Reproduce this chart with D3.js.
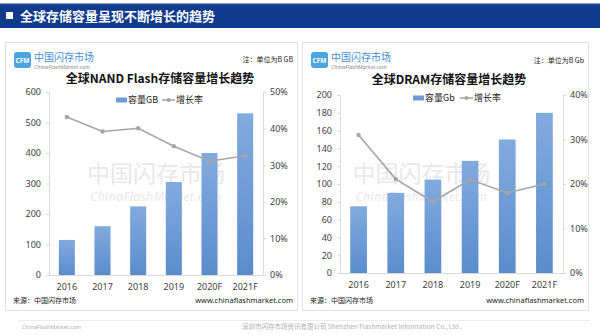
<!DOCTYPE html>
<html><head><meta charset="utf-8">
<script src="https://cdn.jsdelivr.net/npm/d3@7"></script>
<style>
body{margin:0;background:#fff;}
svg{display:block;font-family:"Noto Sans","Noto Sans CJK SC",sans-serif;}
</style></head>
<body>
<svg id="c" width="600" height="335"></svg>
<script>
// ---- data ----
const years = ['2016','2017','2018','2019','2020F','2021F'];
const nandCapacity = [115,160,225,305,400,530];
const nandGrowth = [43.2,39.2,40.1,35.2,31.1,32.6];
const dramCapacity = [75,90,105,126,150,180];
const dramGrowth = [31,21.1,16,21,18,20];
const nandLeftTicks = [0,100,200,300,400,500,600];
const nandRightTicks = [0,10,20,30,40,50];
const dramLeftTicks = [0,20,40,60,80,100,120,140,160,180,200];
const dramRightTicks = [0,10,20,30,40];

const svg = d3.select('#c');
const cjk = '"Noto Sans CJK SC",sans-serif';

// gradient for bars
const defs = svg.append('defs');
const g = defs.append('linearGradient').attr('id','barGrad').attr('x1',0).attr('y1',0).attr('x2',0).attr('y2',1);
g.append('stop').attr('offset','0%').attr('stop-color','#82abdf');
g.append('stop').attr('offset','100%').attr('stop-color','#5a8ccd');

// header
svg.append('rect').attr('x',0).attr('y',4).attr('width',600).attr('height',24).attr('fill','#103b8d');
svg.append('rect').attr('x',0).attr('y',3).attr('width',600).attr('height',1.2).attr('fill','#8aa0c8');
svg.append('rect').attr('x',6).attr('y',12).attr('width',7).attr('height',7).attr('fill','#fff');
svg.append('text').attr('x',20).attr('y',21).attr('fill','#fff').attr('font-size',13).attr('font-weight','bold')
  .attr('font-family',cjk).text('全球存储容量呈现不断增长的趋势');

// footer
svg.append('line').attr('x1',18).attr('x2',590).attr('y1',320.5).attr('y2',320.5).attr('stroke','#ececec');
svg.append('text').attr('x',22).attr('y',329).attr('font-size',5.5).attr('fill','#b0b0b0').text('ChinaFlashMarket.com');
svg.append('text').attr('x',352).attr('y',329).attr('text-anchor','middle').attr('font-size',6.5).attr('fill','#b0b0b0')
  .attr('font-family',cjk).text('深圳市闪存市场资讯有限公司  Shenzhen Flashmarket Information Co., Ltd .');

function drawChart(cfg){
  const p = svg.append('g');
  // panel
  p.append('rect').attr('x',cfg.px+0.5).attr('y',42.5).attr('width',cfg.pw).attr('height',268)
    .attr('fill','#fff').attr('stroke','#e2e2e2');
  // logo
  const lx = cfg.px+9, ly = 52;
  p.append('rect').attr('x',lx).attr('y',ly).attr('width',17).attr('height',16).attr('rx',3).attr('fill','#4ba6e0');
  p.append('text').attr('x',lx+8.5).attr('y',ly+10.5).attr('text-anchor','middle').attr('font-size',6.5)
    .attr('font-weight','bold').attr('fill','#fff').text('CFM');
  p.append('text').attr('x',lx+20).attr('y',ly+8.5).attr('font-size',10).attr('fill','#3f8fd2')
    .attr('font-family',cjk).text('中国闪存市场');
  p.append('text').attr('x',lx+20).attr('y',ly+16.5).attr('font-size',5.5).attr('font-style','italic')
    .attr('fill','#8c8c8c').text('ChinaFlashMarket.com');
  // note
  p.append('text').attr('x',cfg.px+cfg.pw-4).attr('y',cfg.noteY).attr('text-anchor','end').attr('font-size',7)
    .attr('fill','#222').attr('font-family',cjk).text(cfg.note);
  // title
  p.append('text').attr('x',cfg.titleX).attr('y',cfg.titleY).attr('text-anchor','middle').attr('font-size',12)
    .attr('font-weight','bold').attr('fill','#111').attr('font-family',cjk).text(cfg.title);
  // watermark
  const wx = (cfg.x0+cfg.x1)/2 + cfg.wmDx;
  p.append('text').attr('x',wx).attr('y',cfg.wmY).attr('text-anchor','middle').attr('font-size',23)
    .attr('fill','#e8e8e8').attr('font-family',cjk).text('中国闪存市场');
  p.append('text').attr('x',wx).attr('y',cfg.wmY+19).attr('text-anchor','middle').attr('font-size',12)
    .attr('font-style','italic').attr('fill','#e8e8e8').attr('letter-spacing',0.5).text('ChinaFlashMarket.com');

  // scales
  const x = d3.scaleBand().domain(years).range([cfg.x0,cfg.x1]).paddingInner(0.55).paddingOuter(0.275);
  const yL = d3.scaleLinear().domain([0,cfg.leftMax]).range([cfg.yBot,cfg.yTop]);
  const yR = d3.scaleLinear().domain([0,cfg.rightMax]).range([cfg.yBot,cfg.yTop]);

  // axes
  const axL = p.append('g').attr('transform',`translate(${cfg.x0},0)`)
    .call(d3.axisLeft(yL).tickValues(cfg.leftTicks).tickSize(3).tickPadding(5).tickFormat(d3.format('d')));
  const axR = p.append('g').attr('transform',`translate(${cfg.x1},0)`)
    .call(d3.axisRight(yR).tickValues(cfg.rightTicks).tickSize(3).tickPadding(4).tickFormat(d=>d+'%'));
  const axB = p.append('g').attr('transform',`translate(0,${cfg.yBot})`)
    .call(d3.axisBottom(x).tickSize(0).tickPadding(9));
  [axL,axR,axB].forEach(a=>{
    a.select('.domain').attr('stroke','#d9d9d9');
    a.selectAll('.tick line').attr('stroke','#d9d9d9');
    a.selectAll('text').attr('fill','#404040').attr('font-size',9).attr('font-family','"Noto Sans",sans-serif');
  });

  // bars
  p.append('g').selectAll('rect').data(cfg.capacity).join('rect')
    .attr('x',(d,i)=>x(years[i])).attr('width',x.bandwidth())
    .attr('y',d=>yL(d)).attr('height',d=>cfg.yBot-yL(d)).attr('fill','url(#barGrad)');
  // line
  const line = d3.line().x((d,i)=>x(years[i])+x.bandwidth()/2).y(d=>yR(d));
  p.append('path').datum(cfg.growth).attr('d',line).attr('fill','none').attr('stroke','#a5a5a5').attr('stroke-width',1.6);
  p.append('g').selectAll('circle').data(cfg.growth).join('circle')
    .attr('cx',(d,i)=>x(years[i])+x.bandwidth()/2).attr('cy',d=>yR(d)).attr('r',2.2).attr('fill','#a5a5a5');

  // legend
  const lg = p.append('g').attr('transform',`translate(${cfg.legX},${cfg.legY})`);
  lg.append('rect').attr('x',0).attr('y',-2.5).attr('width',11).attr('height',5).attr('fill','#6e9cd8');
  lg.append('text').attr('x',12).attr('y',3.2).attr('font-size',9).attr('fill','#222').attr('font-family',cjk).text(cfg.capLabel);
  lg.append('line').attr('x1',cfg.legLineX).attr('x2',cfg.legLineX+13).attr('y1',0).attr('y2',0).attr('stroke','#a5a5a5').attr('stroke-width',1.6);
  lg.append('circle').attr('cx',cfg.legLineX+6.5).attr('cy',0).attr('r',2).attr('fill','#a5a5a5');
  lg.append('text').attr('x',cfg.legLineX+14).attr('y',3.2).attr('font-size',9).attr('fill','#222').attr('font-family',cjk).text('增长率');

  // source
  p.append('text').attr('x',cfg.px+8).attr('y',303).attr('font-size',7).attr('fill','#222').attr('font-family',cjk).text('来源：中国闪存市场');
  p.append('text').attr('x',cfg.px+cfg.pw-4).attr('y',303).attr('text-anchor','end').attr('font-size',7.5).attr('fill','#222').text('www.chinaflashmarket.com');
}

drawChart({px:5, pw:292, title:'全球NAND Flash存储容量增长趋势', titleX:160, titleY:83,
  note:'注：单位为B GB', noteY:62,
  x0:49, x1:263, yTop:92, yBot:275, leftMax:600, rightMax:50,
  leftTicks:nandLeftTicks, rightTicks:nandRightTicks, capacity:nandCapacity, growth:nandGrowth,
  legX:116, legY:100, legLineX:46, capLabel:'容量GB', wmY:182, wmDx:0});

drawChart({px:302, pw:286, title:'全球DRAM存储容量增长趋势', titleX:449, titleY:84,
  note:'注：单位为B Gb', noteY:63,
  x0:340, x1:563, yTop:95, yBot:273, leftMax:200, rightMax:40,
  leftTicks:dramLeftTicks, rightTicks:dramRightTicks, capacity:dramCapacity, growth:dramGrowth,
  legX:413, legY:98, legLineX:47, capLabel:'容量Gb', wmY:182, wmDx:-30});
</script>
</body></html>
